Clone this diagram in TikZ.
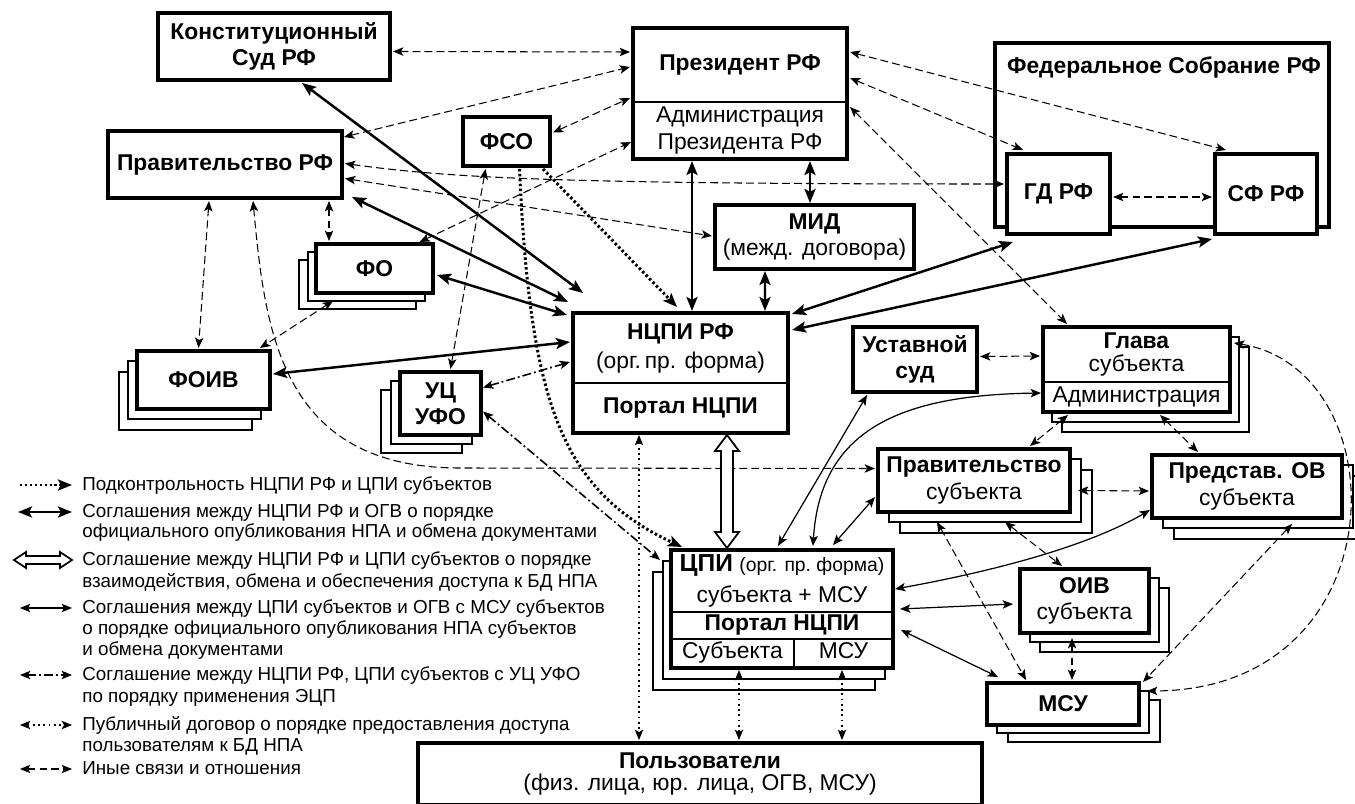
\documentclass[tikz,border=0pt]{standalone}
\usepackage{fontspec}
\setmainfont{Liberation Sans}
\usetikzlibrary{arrows.meta,positioning,calc}
\newlength{\du}
\setlength{\du}{0.02cm}
\newcommand{\boxfont}{\fontsize{13}{15}\selectfont}
\pgfdeclarelayer{back}
\pgfsetlayers{back,main}
\tikzset{
  smalltip/.tip={Stealth[length=5.9pt,width=4.8pt,inset=1.4pt]},
  bigtip/.tip={Stealth[length=8pt,width=6.3pt,inset=1.7pt]},
  box/.style={draw, line width=2.2pt, fill=white, inner sep=0pt, outer sep=0pt, align=center, font=\boxfont},
  bbox/.style={box, font=\boxfont\bfseries},
  part/.style={inner sep=0pt, outer sep=0pt, align=center, font=\boxfont},
  copybox/.style={draw, line width=0.9pt, fill=white},
  divider/.style={line width=1.3pt},
  legend/.style={anchor=west, inner sep=0pt, font=\fontsize{10.7}{12}\selectfont, text height=1.6ex, text depth=0.4ex},
  other/.style={line width=0.6pt, dash pattern=on 4.5pt off 2.3pt, smalltip-smalltip},
  ogv/.style={line width=1.4pt, bigtip-bigtip},
  cpil/.style={line width=0.7pt, smalltip-smalltip},
  ecp/.style={line width=0.9pt, dash pattern=on 5.1pt off 1.7pt on 1.1pt off 1.7pt, smalltip-smalltip},
  pub/.style={line width=0.6pt, dash pattern=on 1pt off 2pt, smalltip-smalltip},
  ctrl/.style={line width=1.7pt, dash pattern=on 1.4pt off 1.4pt, -bigtip},
  hollow/.style={line width=1pt, fill=white, line join=miter}
}

\begin{document}
\begin{tikzpicture}[x=1\du, y=-1\du]
\useasboundingbox (0,0) rectangle (1355,804);

% federal level
\node[bbox, minimum width=232\du, minimum height=67\du] (kc) at (274,46.5) {Конституционный\\Суд РФ};
\node[bbox, minimum width=234\du, minimum height=67\du] (prf) at (225,164.5) {Правительство РФ};
\node[box, minimum width=214\du, minimum height=131\du] (pres) at (740,93.5) {};
\node[part, minimum width=214\du, minimum height=74\du, anchor=north, font=\boxfont\bfseries] (prestop) at (pres.north) {Президент РФ};
\node[part, minimum width=214\du, minimum height=57\du, below=0pt of prestop] (presadm) {Администрация\\Президента РФ};
\draw[divider] (prestop.south west) -- (prestop.south east);
\node[bbox, minimum width=87\du, minimum height=49\du] (fso) at (506.5,141.5) {ФСО};
\node[box, minimum width=334\du, minimum height=184\du] (fs) at (1162,135) {};
\node[part, anchor=west, font=\boxfont\bfseries] (fstitle) at ([shift={(12,24)}]fs.north west) {Федеральное Собрание РФ};
\node[bbox, minimum width=103\du, minimum height=80\du] (gd) at (1058.5,194) {ГД РФ};
\node[bbox, minimum width=102\du, minimum height=80\du] (sf) at (1266,194) {СФ РФ};
\node[box, minimum width=199\du, minimum height=64\du] (mid) at (814.5,237) {\textbf{МИД}\\(межд. договора)};
\node[bbox, minimum width=117\du, minimum height=49\du] (fo) at (374.5,268.5) {ФО};
\node[bbox, minimum width=133\du, minimum height=58\du] (foiv) at (203.5,380) {ФОИВ};
\node[bbox, minimum width=81\du, minimum height=63\du] (uc) at (440.5,403.5) {УЦ\\УФО};
\node[box, minimum width=215\du, minimum height=120\du] (nc) at (680.5,373) {};
\node[part, minimum width=215\du, minimum height=70\du, anchor=north, font=\fontsize{13}{16.5}\selectfont] (nctop) at (nc.north) {\textbf{НЦПИ РФ}\\(орг.\,пр. форма)};
\node[part, minimum width=215\du, minimum height=50\du, below=0pt of nctop, font=\boxfont\bfseries] (ncportal) {Портал НЦПИ};
\draw[divider] (nctop.south west) -- (nctop.south east);

% subject level
\node[bbox, minimum width=124\du, minimum height=65\du] (ust) at (915,359.5) {Уставной\\суд};
\node[box, minimum width=187\du, minimum height=85\du] (gl) at (1136.5,369.5) {};
\node[part, minimum width=187\du, minimum height=55\du, anchor=north, font=\fontsize{13}{13}\selectfont] (gltop) at (gl.north) {\textbf{Глава}\\субъекта};
\node[part, minimum width=187\du, minimum height=30\du, below=0pt of gltop] (gladm) {Администрация};
\draw[divider] (gltop.south west) -- (gltop.south east);
\node[box, minimum width=192\du, minimum height=63\du] (prs) at (974,480.5) {\textbf{Правительство}\\субъекта};
\node[box, minimum width=190\du, minimum height=63\du] (pov) at (1247,486.5) {\textbf{Представ. ОВ}\\субъекта};
\node[box, minimum width=222\du, minimum height=118\du] (cpi) at (782,609) {};
\node[part, minimum width=222\du, minimum height=62\du, anchor=north, font=\fontsize{13}{18}\selectfont] (cpitop) at (cpi.north) {{\fontsize{14}{18}\selectfont\bfseries ЦПИ} {\fontsize{11}{18}\selectfont(орг. пр.\ форма)}\\субъекта + МСУ};
\node[part, minimum width=222\du, minimum height=27\du, below=0pt of cpitop, font=\boxfont\bfseries] (cpiportal) {Портал НЦПИ};
\node[part, minimum width=123\du, minimum height=29\du, anchor=north west, text height=1.6ex, text depth=0.45ex] (cpisub) at (cpiportal.south west) {Субъекта};
\node[part, minimum width=99\du, minimum height=29\du, right=0pt of cpisub, text height=1.6ex, text depth=0.45ex] (cpimsu) {МСУ};
\draw[divider] (cpitop.south west) -- (cpitop.south east);
\draw[divider] (cpiportal.south west) -- (cpiportal.south east);
\draw[line width=0.9pt] (cpisub.north east) -- (cpisub.south east);
\node[box, minimum width=129\du, minimum height=64\du] (oiv) at (1084.5,601) {\textbf{ОИВ}\\субъекта};
\node[bbox, minimum width=152\du, minimum height=42\du] (msu) at (1063,704) {МСУ};
\node[box, minimum width=564\du, minimum height=62\du, font=\fontsize{13}{13}\selectfont] (users) at (700,774) {\textbf{Пользователи}\\(физ. лица, юр. лица, ОГВ, МСУ)};

% stacked copies behind
\begin{pgfonlayer}{back}
\draw[copybox] ([shift={(-17,16)}]fo.south west) rectangle ([shift={(-17,16)}]fo.north east);
\draw[copybox] ([shift={(-8,8)}]fo.south west) rectangle ([shift={(-8,8)}]fo.north east);
\draw[copybox] ([shift={(-18,21)}]foiv.south west) rectangle ([shift={(-18,21)}]foiv.north east);
\draw[copybox] ([shift={(-9,10)}]foiv.south west) rectangle ([shift={(-9,10)}]foiv.north east);
\draw[copybox] ([shift={(-19,18)}]uc.south west) rectangle ([shift={(-19,18)}]uc.north east);
\draw[copybox] ([shift={(-9,9)}]uc.south west) rectangle ([shift={(-9,9)}]uc.north east);
\draw[copybox] ([shift={(19,20)}]gl.south west) rectangle ([shift={(19,20)}]gl.north east);
\draw[copybox] ([shift={(9,10)}]gl.south west) rectangle ([shift={(9,10)}]gl.north east);
\draw[copybox] ([shift={(22,21)}]prs.south west) rectangle ([shift={(22,21)}]prs.north east);
\draw[copybox] ([shift={(11,10)}]prs.south west) rectangle ([shift={(11,10)}]prs.north east);
\draw[copybox] ([shift={(22,21)}]pov.south west) rectangle ([shift={(22,21)}]pov.north east);
\draw[copybox] ([shift={(11,10)}]pov.south west) rectangle ([shift={(11,10)}]pov.north east);
\draw[copybox] ([shift={(-18,22)}]cpi.south west) rectangle ([shift={(-18,22)}]cpi.north east);
\draw[copybox] ([shift={(-8,11)}]cpi.south west) rectangle ([shift={(-8,11)}]cpi.north east);
\draw[copybox] ([shift={(20,19)}]oiv.south west) rectangle ([shift={(20,19)}]oiv.north east);
\draw[copybox] ([shift={(10,9)}]oiv.south west) rectangle ([shift={(10,9)}]oiv.north east);
\draw[copybox] ([shift={(21,17)}]msu.south west) rectangle ([shift={(21,17)}]msu.north east);
\draw[copybox] ([shift={(10,8)}]msu.south west) rectangle ([shift={(10,8)}]msu.north east);
\end{pgfonlayer}

% other links
\draw[other] ([shift={(3,5)}]kc.east) -- ([shift={(-3,24)}]pres.north west);
\draw[other] ([shift={(2,6)}]prf.north east) -- ([shift={(-3,39)}]pres.north west);
\draw[other] ([shift={(3,-9)}]fso.east) -- ([shift={(-3,70)}]pres.north west);
\draw[other] ([shift={(45,-2)}]fo.north) -- ([shift={(-2,114)}]pres.north west);
\draw[other] ([shift={(3,-1)}]prf.east) .. controls (450,178) and (560,184) .. ([shift={(-3,-10)}]gd.west);
\draw[other] ([shift={(3,14)}]prf.east) -- ([shift={(-3,-1)}]mid.west);
\draw[other] ([shift={(3,24)}]pres.north east) -- ([shift={(11,-4)}]sf.north west);
\draw[other] ([shift={(3,50)}]pres.north east) -- ([shift={(16,-4)}]gd.north west);
\draw[other] ([shift={(3,79)}]pres.north east) -- ([shift={(24,-3)}]gl.north west);
\draw[other] ([shift={(3,3)}]gd.east) -- ([shift={(-3,3)}]sf.west);
\draw[other] ([shift={(-13,3)}]prf.south east) -- ([shift={(13,-3)}]fo.north west);
\draw[other] ([shift={(101,3)}]prf.south west) -- ([shift={(-5,-3)}]foiv.north);
\draw[other] ([shift={(145,3)}]prf.south west) .. controls (265,330) and (280,468) .. (460,468) -- ([shift={(-3,-12)}]prs.west);
\draw[other] ([shift={(17,8)}]fo.south west) -- ([shift={(-10,-3)}]foiv.north east);
\draw[other] ([shift={(-21,3)}]fso.south) -- ([shift={(10,-3)}]uc.north);
\draw[other] ([shift={(3,-3)}]ust.east) -- ([shift={(-3,29)}]gl.north west);
\draw[other] ([shift={(25,3)}]gl.south west) -- ([shift={(-40,-3)}]prs.north east);
\draw[other] ([shift={(-70,3)}]gl.south east) -- ([shift={(46,-3)}]pov.north west);
\draw[other] ([shift={(8,10)}]prs.east) -- ([shift={(-3,4.5)}]pov.west);
\draw[other] ([shift={(59,10)}]prs.south west) -- ([shift={(39,-3)}]msu.north west);
\draw[other] ([shift={(31,10)}]prs.south) -- ([shift={(42,-3)}]oiv.north west);
\draw[other] ([shift={(52,5)}]oiv.south west) -- ([shift={(85,-3)}]msu.north west);
\draw[other] ([shift={(-50,6)}]pov.south east) -- ([shift={(4,-1)}]msu.north east);
\draw[other] ([shift={(4,16)}]gl.north east) .. controls (1400,370) and (1400,690) .. ([shift={(8,-13)}]msu.east);

% NCPI - OGV
\draw[ogv] ([shift={(28,3)}]kc.south) -- ([shift={(10,-20)}]nc.north west);
\draw[ogv] ([shift={(10,-1)}]prf.south east) -- ([shift={(-5,-11)}]nc.north west);
\draw[ogv] ([shift={(4,6.5)}]fo.east) -- ([shift={(-6,2)}]nc.north west);
\draw[ogv] ([shift={(3,-6)}]foiv.east) -- ([shift={(-3,29)}]nc.north west);
\draw[ogv] ([shift={(59,2)}]pres.south west) -- ([shift={(119,-2)}]nc.north west);
\draw[ogv] ([shift={(-37,2)}]pres.south east) -- ([shift={(95,-2)}]mid.north west);
\draw[ogv] ([shift={(50,2)}]mid.south west) -- ([shift={(-23,-2)}]nc.north east);
\draw[ogv] ([shift={(6,8)}]gd.south west) -- ([shift={(4,1)}]nc.north east);
\draw[ogv] ([shift={(-3,5)}]sf.south west) -- ([shift={(4,17)}]nc.north east);

% control
\draw[ctrl] ([shift={(-7,3)}]fso.south east) -- ([shift={(104,-6)}]nc.north west);
\draw[ctrl] ([shift={(13,3)}]fso.south) .. controls (530,400) and (560,490) .. ([shift={(11,-3)}]cpi.north west);

% NCPI - CPI
\draw[hollow] ([shift={(-61,2)}]nc.south east) -- ++(12,16) -- ++(-6,0) -- ([shift={(62,-18)}]cpi.north west) -- ++(6,0) -- ++(-12,16) -- ++(-12,-16) -- ++(6,0) -- ([shift={(-67,18)}]nc.south east) -- ++(-6,0) -- cycle;

% CPI - OGV, MSU
\draw[cpil] ([shift={(-115,-4)}]cpi.north east) -- ([shift={(14,3)}]ust.south west);
\draw[cpil] ([shift={(-80,-4)}]cpi.north east) .. controls (820,430) and (900,395) .. ([shift={(-2,-19)}]gl.south west);
\draw[cpil] ([shift={(-60,-5)}]cpi.north east) -- ([shift={(-3,-15)}]prs.south west);
\draw[cpil] ([shift={(2,-20)}]cpi.east) .. controls (1000,570) and (1090,545) .. ([shift={(-2,-8)}]pov.south west);
\draw[cpil] ([shift={(7,0)}]cpi.east) -- ([shift={(-7,3)}]oiv.west);
\draw[cpil] ([shift={(8,21)}]cpi.east) -- ([shift={(11,-6)}]msu.north west);

% EDS
\draw[ecp] ([shift={(2,-16)}]uc.east) -- ([shift={(-3,49)}]nc.north west);
\draw[ecp] ([shift={(2,8)}]uc.east) -- ([shift={(-11,10)}]cpi.north west);

% public access
\draw[pub] ([shift={(66,2)}]nc.south west) -- ([shift={(221,-3)}]users.north west);
\draw[pub] ([shift={(68,2)}]cpi.south west) -- ([shift={(321,-3)}]users.north west);
\draw[pub] ([shift={(-51,2)}]cpi.south east) -- ([shift={(424,-3)}]users.north west);

% legend
\node[legend] (lg1) at (82,485) {Подконтрольность НЦПИ РФ и ЦПИ субъектов};
\node[legend] (lg2) at (82,512) {Соглашения между НЦПИ РФ и ОГВ о порядке};
\node[legend] (lg2b) at (82,532) {официального опубликования НПА и обмена документами};
\node[legend] (lg3) at (82,560) {Соглашение между НЦПИ РФ и ЦПИ субъектов о порядке};
\node[legend] (lg3b) at (82,582) {взаимодействия, обмена и обеспечения доступа к БД НПА};
\node[legend] (lg4) at (82,608) {Соглашения между ЦПИ субъектов и ОГВ с МСУ субъектов};
\node[legend] (lg4b) at (82,629) {о порядке официального опубликования НПА субъектов};
\node[legend] (lg4c) at (82,650) {и обмена документами};
\node[legend] (lg5) at (82,675) {Соглашение между НЦПИ РФ, ЦПИ субъектов с УЦ УФО};
\node[legend] (lg5b) at (82,697) {по порядку применения ЭЦП};
\node[legend] (lg6) at (82,725) {Публичный договор о порядке предоставления доступа};
\node[legend] (lg6b) at (82,746) {пользователям к БД НПА};
\node[legend] (lg7) at (82,769) {Иные связи и отношения};
\draw[ctrl] ([shift={(-62,0)}]lg1.west) -- ([shift={(-10,0)}]lg1.west);
\draw[ogv] ([shift={(-64,0)}]lg2.west) -- ([shift={(-10,0)}]lg2.west);
\draw[hollow] ([shift={(-68,0)}]lg3.west) -- ++(12,-8) -- ++(0,4) -- ++(34,0) -- ++(0,-4) -- ++(12,8) -- ++(-12,8) -- ++(0,-4) -- ++(-34,0) -- ++(0,4) -- cycle;
\draw[cpil] ([shift={(-62,0)}]lg4.west) -- ([shift={(-10,0)}]lg4.west);
\draw[ecp] ([shift={(-62,0)}]lg5.west) -- ([shift={(-10,0)}]lg5.west);
\draw[pub] ([shift={(-62,0)}]lg6.west) -- ([shift={(-10,0)}]lg6.west);
\draw[other] ([shift={(-62,0)}]lg7.west) -- ([shift={(-10,0)}]lg7.west);
\end{tikzpicture}
\end{document}
